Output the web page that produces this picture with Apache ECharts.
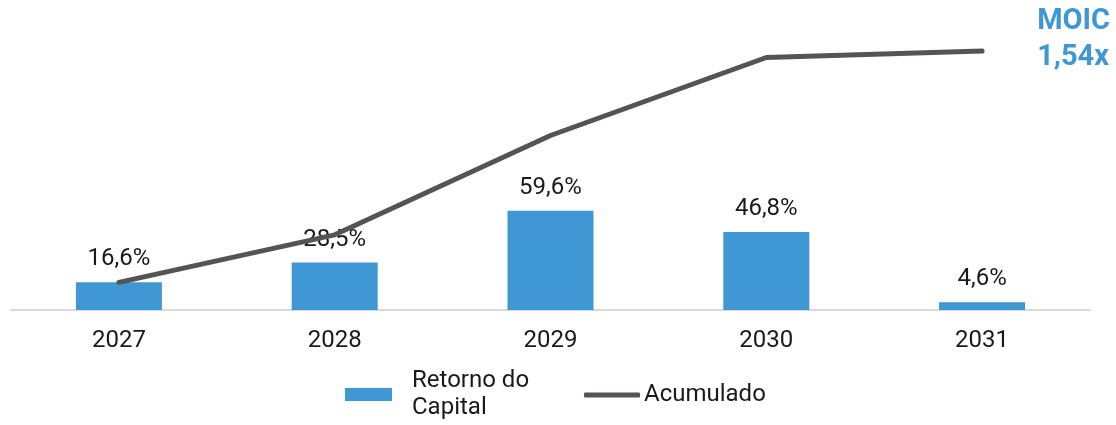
<!DOCTYPE html>
<html>
<head>
<meta charset="utf-8">
<style>
  html, body { margin: 0; padding: 0; background: #fff; }
  #chart { width: 1116px; height: 425px; }
</style>
<script src="https://cdn.jsdelivr.net/npm/echarts@6/dist/echarts.min.js"></script>
</head>
<body>
<div id="chart"></div>
<script>
// anos
var years = ['2027', '2028', '2029', '2030', '2031']
// retorno do capital por ano (%)
var retorno = [16.6, 28.5, 59.6, 46.8, 4.6]
// retorno acumulado (%)
var acumulado = [16.6, 45.1, 104.7, 151.5, 155.4]
var moicText = 'MOIC\n1,54x'

var blue = '#3f97d3'
var gray = '#585353'
var fontFamily = 'Roboto, "Noto Sans", sans-serif'

function pct(v) {
  return v.toFixed(1).replace('.', ',') + '%'
}

var chart = echarts.init(document.getElementById('chart'))

chart.setOption({
  animation: false,
  textStyle: { fontFamily: fontFamily },
  graphic: [
    {
      type: 'text',
      right: 6,
      top: 4,
      style: {
        text: moicText,
        align: 'right',
        fill: blue,
        fontWeight: 'bold',
        fontSize: 29,
        lineHeight: 36,
        fontFamily: fontFamily
      }
    }
  ],
  legend: [
    {
      data: ['Retorno do Capital'],
      left: 345,
      top: 363,
      padding: 0,
      icon: 'rect',
      itemWidth: 47,
      itemHeight: 13,
      formatter: function () { return 'Retorno do\nCapital' },
      textStyle: {
        color: '#1a1a1a',
        fontSize: 24,
        lineHeight: 27,
        padding: [9, 0, 0, 15],
        fontFamily: fontFamily
      }
    },
    {
      data: ['Acumulado'],
      left: 584,
      top: 383,
      padding: 0,
      icon: 'roundRect',
      itemWidth: 56,
      itemHeight: 5,
      textStyle: {
        color: '#1a1a1a',
        fontSize: 24,
        padding: [0, 0, 0, -1],
        fontFamily: fontFamily
      }
    }
  ],
  grid: {
    left: 11,
    right: 26,
    top: 10,
    bottom: 115
  },
  xAxis: {
    type: 'category',
    data: years,
    boundaryGap: true,
    axisLine: {
      lineStyle: { color: '#d9d9d9', width: 2 }
    },
    axisTick: { show: false },
    axisLabel: {
      color: '#1a1a1a',
      fontSize: 24,
      margin: 19,
      fontFamily: fontFamily
    }
  },
  yAxis: {
    type: 'value',
    min: 0,
    max: 180,
    show: false,
    splitLine: { show: false }
  },
  series: [
    {
      name: 'Retorno do Capital',
      type: 'bar',
      data: retorno,
      barWidth: 86,
      itemStyle: { color: blue },
      label: {
        show: true,
        position: 'top',
        distance: 11,
        color: '#1a1a1a',
        fontSize: 24,
        fontFamily: fontFamily,
        formatter: function (p) { return pct(p.value) }
      },
      z: 2
    },
    {
      name: 'Acumulado',
      type: 'line',
      data: acumulado,
      symbol: 'none',
      itemStyle: { color: gray },
      lineStyle: { color: gray, width: 5, cap: 'round', join: 'round' },
      z: 3
    }
  ]
})
</script>
</body>
</html>
